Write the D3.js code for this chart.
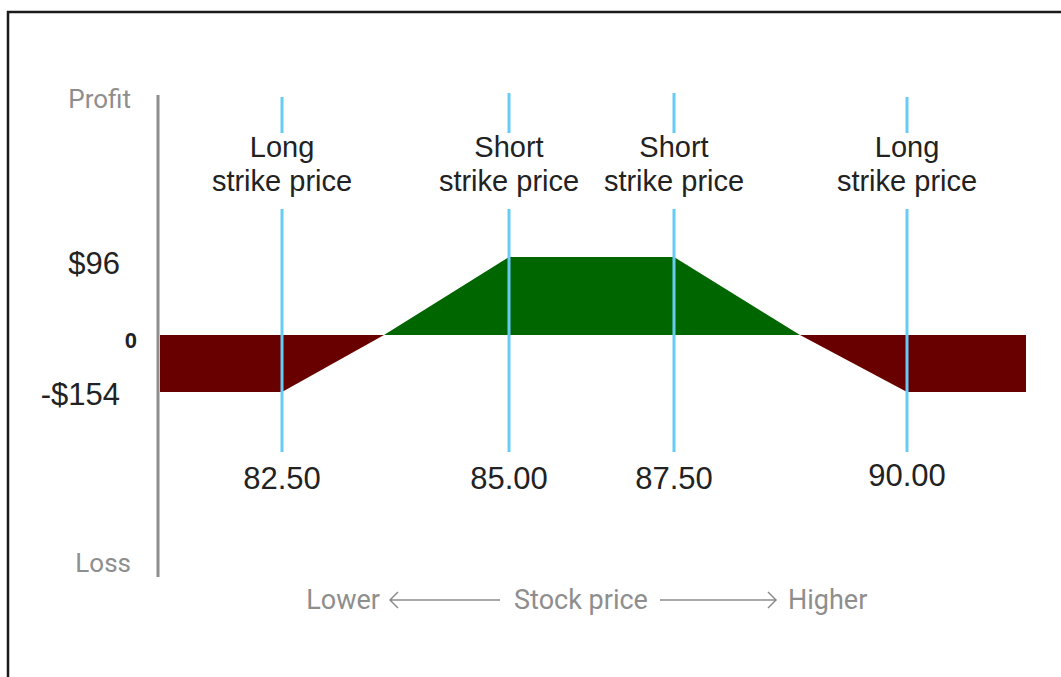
<!DOCTYPE html>
<html lang="en">
<head>
  <meta charset="utf-8">
  <title>Iron condor payoff</title>
  <script src="https://d3js.org/d3.v7.min.js"></script>
</head>
<style>
  body { margin: 0; background: #fff; }
  .strike-label, .price-label, .pl-label { font-family: "Liberation Sans", Arial, sans-serif; fill: #222; }
  .axis-word { font-family: Roboto, sans-serif; fill: #8e8e8e; }
</style>
<body>
  <div class="chart"></div>
</body>
<script>
// payoff at expiry (diagram is not drawn to scale)
var prices = [80, 82.5, 84.04, 85, 87.5, 88.46, 90, 92.5];
var profit = [-154, -154, 0, 96, 96, 0, -154, -154];

var strikes = [82.5, 85, 87.5, 90];
var strikeKinds = ["Long", "Short", "Short", "Long"];
var strikeTicks = ["82.50", "85.00", "87.50", "90.00"];

var plValues = [96, 0, -154];
var plLabels = ["$96", "0", "-$154"];

var width = 1061;
var height = 677;

var svg = d3.select(".chart")
  .append("svg")
  .attr("width", width)
  .attr("height", height);

// frame (top + left only)
svg.append("path")
  .attr("d", "M8,677 V12 H1061")
  .attr("fill", "none")
  .attr("stroke", "#1a1a1a")
  .attr("stroke-width", 2.5);

// piecewise scales, the picture stretches the strike zones unevenly
var x = d3.scaleLinear()
  .domain(prices)
  .range([160, 282, 384, 509, 674, 800, 907, 1026]);

var y = d3.scaleLinear()
  .domain([-154, 0, 96])
  .range([392, 335, 257]);

var data = prices.map(function(p, i){ return {price: p, pl: profit[i]}; });

var lossArea = d3.area()
  .x(function(d){ return x(d.price); })
  .y0(y(0))
  .y1(function(d){ return y(Math.min(0, d.pl)); });

var gainArea = d3.area()
  .x(function(d){ return x(d.price); })
  .y0(y(0))
  .y1(function(d){ return y(Math.max(0, d.pl)); });

svg.append("path")
  .attr("d", lossArea(data))
  .attr("fill", "#690000");

svg.append("path")
  .attr("d", gainArea(data))
  .attr("fill", "#006600");

// y axis line
svg.append("line")
  .attr("x1", 158).attr("x2", 158)
  .attr("y1", 95).attr("y2", 577)
  .attr("stroke", "#8e8e8e")
  .attr("stroke-width", 3);

// strike lines, broken where the label sits
var strikeG = svg.selectAll(".strike")
  .data(strikes)
  .enter().append("g")
  .attr("class", "strike")
  .attr("transform", function(d){ return "translate(" + x(d) + ",0)"; });

strikeG.append("line")
  .attr("y1", function(d, i){ return strikeKinds[i] == "Short" ? 93 : 97; })
  .attr("y2", 133)
  .attr("stroke", "#66ccf5")
  .attr("stroke-width", 3);

strikeG.append("line")
  .attr("y1", 209)
  .attr("y2", 452)
  .attr("stroke", "#66ccf5")
  .attr("stroke-width", 3);

strikeG.append("text")
  .attr("class", "strike-label")
  .attr("text-anchor", "middle")
  .attr("y", 157)
  .style("font-size", "29px")
  .text(function(d, i){ return strikeKinds[i]; });

strikeG.append("text")
  .attr("class", "strike-label")
  .attr("text-anchor", "middle")
  .attr("y", 191)
  .style("font-size", "29px")
  .text("strike price");

strikeG.append("text")
  .attr("class", "price-label")
  .attr("text-anchor", "middle")
  .attr("y", function(d, i){ return i == 3 ? 486 : 489; })
  .style("font-size", "31px")
  .text(function(d, i){ return strikeTicks[i]; });

// profit / loss labels
svg.selectAll(".pl-label")
  .data(plValues)
  .enter().append("text")
  .attr("class", "pl-label")
  .attr("text-anchor", "end")
  .attr("x", function(d){ return d == 0 ? 137 : 120; })
  .attr("y", function(d){ return y(d) + (d == 0 ? 13 : d > 0 ? 17 : 13); })
  .style("font-size", function(d){ return d == 0 ? "22px" : "31px"; })
  .style("font-weight", function(d){ return d == 0 ? "bold" : "normal"; })
  .text(function(d, i){ return plLabels[i]; });

svg.append("text")
  .attr("class", "axis-word")
  .attr("text-anchor", "end")
  .attr("x", 131).attr("y", 108)
  .style("font-size", "26px")
  .text("Profit");

svg.append("text")
  .attr("class", "axis-word")
  .attr("text-anchor", "end")
  .attr("x", 131).attr("y", 572)
  .style("font-size", "26px")
  .text("Loss");

// stock price caption with arrows
var cap = svg.append("g").attr("transform", "translate(0,609)");

cap.append("text").attr("class", "axis-word")
  .attr("text-anchor", "end").attr("x", 380)
  .style("font-size", "27px").text("Lower");
cap.append("text").attr("class", "axis-word")
  .attr("text-anchor", "middle").attr("x", 581)
  .style("font-size", "27px").text("Stock price");
cap.append("text").attr("class", "axis-word")
  .attr("text-anchor", "start").attr("x", 788)
  .style("font-size", "27px").text("Higher");

cap.append("path")
  .attr("d", "M398,-17 L390,-9 L398,-1 M390,-9 H500")
  .attr("fill", "none")
  .attr("stroke", "#8e8e8e")
  .attr("stroke-width", 1.5);

cap.append("path")
  .attr("d", "M660,-9 H776 M768,-17 L776,-9 L768,-1")
  .attr("fill", "none")
  .attr("stroke", "#8e8e8e")
  .attr("stroke-width", 1.5);
</script>
</html>
